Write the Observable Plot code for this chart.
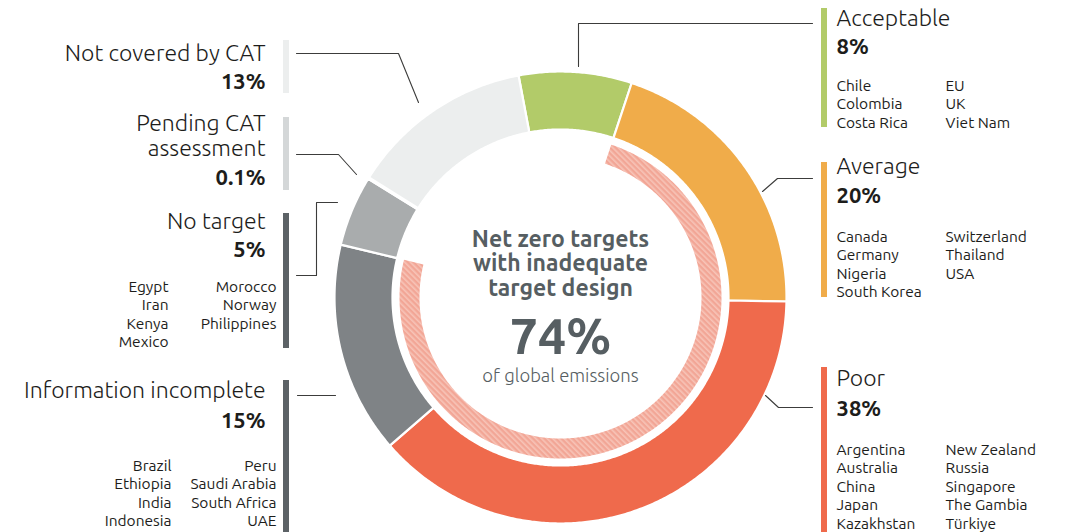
<!DOCTYPE html>
<html><head><meta charset="utf-8">
<script src="https://cdn.jsdelivr.net/npm/d3@7"></script>
<script src="https://cdn.jsdelivr.net/npm/@observablehq/plot@0.6"></script>
<style>
html,body{margin:0;padding:0;background:#fff;}
#chart svg{display:block;}
</style>
</head><body><div id="chart"></div>
<script>
// ---------------- DATA ----------------
const categories = ["Acceptable","Average","Poor","Information incomplete","No target","Pending CAT assessment","Not covered by CAT"];
const values = [8, 20, 38, 15, 5, 0.1, 13];
const pctLabels = ["8%","20%","38%","15%","5%","0.1%","13%"];
const acceptableCountries = ["Chile","Colombia","Costa Rica","EU","UK","Viet Nam"];
const averageCountries = ["Canada","Germany","Nigeria","South Korea","Switzerland","Thailand","USA"];
const poorCountries = ["Argentina","Australia","China","Japan","Kazakhstan","New Zealand","Russia","Singapore","The Gambia","Türkiye"];
const infoCountries = ["Brazil","Ethiopia","India","Indonesia","Peru","Saudi Arabia","South Africa","UAE"];
const noTargetCountries = ["Egypt","Iran","Kenya","Mexico","Morocco","Norway","Philippines"];
const inadequateCategories = ["Average","Poor","Information incomplete"];
const centerLines = ["Net zero targets","with inadequate","target design"];
const centerValue = "74%";
const centerNote = "of global emissions";

// ---------------- STYLE / LAYOUT ----------------
const W = 1074, H = 532;
const cx = 560, cy = 297, rOuter = 226, rInner = 168, hOuter = 161, hInner = 141;
const startDeg = -10.7;
const segColors = {"Acceptable":"#b2cb69","Average":"#f0ac4a","Poor":"#ef6a4c","Information incomplete":"#7f8386","No target":"#a9acad","Pending CAT assessment":"#d6d9d9","Not covered by CAT":"#eceeee"};
const FONT = "Ubuntu, 'Open Sans', 'Noto Sans', sans-serif";
const textColor = "#1d1d1b";
const centerColor = "#565e62";

const labelLayout = {
  "Acceptable":            {side:"right", bar:[8,127],   title:[25],      pct:53,  list:90,  barColor:"#b2cb69"},
  "Average":               {side:"right", bar:[162,297], title:[173],     pct:202, list:241, barColor:"#f0ac4a"},
  "Poor":                  {side:"right", bar:[367,532], title:[385],     pct:415, list:454, barColor:"#ef6a4c"},
  "Not covered by CAT":    {side:"left",  bar:[40,93],   title:[60],      pct:88,  barColor:"#eceeee"},
  "Pending CAT assessment":{side:"left",  bar:[117,190], title:[130,155], pct:184, barColor:"#d4d7d8", lines:["Pending CAT","assessment"]},
  "No target":             {side:"left",  bar:[213,348], title:[228],     pct:256, list:291, col1:168, barColor:"#5c6266"},
  "Information incomplete":{side:"left",  bar:[380,532], title:[397],     pct:427, list:470, col1:171, barColor:"#5c6266"}
};
const countryLists = {"Acceptable":acceptableCountries,"Average":averageCountries,"Poor":poorCountries,"No target":noTargetCountries,"Information incomplete":infoCountries};
const rightText = 836, rightCol2 = 945, rightBar = [821,827];
const leftText = 265, leftCol2 = 276, leftBar = [283,289];
const lineStep = 18.6;

const leaders = [
  {k:"Acceptable", pts:[[578,66],[578,23],[812,23]]},
  {k:"Average", pts:[[762,191],[777,178],[812,178]]},
  {k:"Poor", pts:[[765,395],[778,407],[812,407]]},
  {k:"Not covered by CAT", pts:[[296,53],[398,53],[418,102]]},
  {k:"Pending CAT assessment", pts:[[296,154],[338,154],[356,174]]},
  {k:"No target", pts:[[337,202],[316,202],[316,275],[296,275]]},
  {k:"Information incomplete", pts:[[297,395],[335,395]]}
];

// ---------------- GEOMETRY FROM DATA ----------------
const segs = categories.map((c,i)=>({key:c, value:values[i]}));
const rad = Math.PI/180;
const pie = d3.pie().sort(null).value(d=>d.value).startAngle(startDeg*rad).endAngle(startDeg*rad + 2*Math.PI);
const arcs = pie(segs);

function ring(key, a0, a1, r0, r1) {
  const n = Math.max(2, Math.ceil((a1-a0)/(0.5*rad)));
  const pts = [];
  for (let i=0;i<=n;i++){ const a=a0+(a1-a0)*i/n; pts.push({key, x:cx+r1*Math.sin(a), y:cy-r1*Math.cos(a)}); }
  for (let i=n;i>=0;i--){ const a=a0+(a1-a0)*i/n; pts.push({key, x:cx+r0*Math.sin(a), y:cy-r0*Math.cos(a)}); }
  pts.push({...pts[0]});
  return pts;
}
const segPts = arcs.flatMap(a => ring(a.data.key, a.startAngle, a.endAngle, rInner, rOuter).map(p=>({...p, color:segColors[a.data.key]})));
const inad = arcs.filter(a => inadequateCategories.includes(a.data.key));
const hatchPts = ring("hatch", d3.min(inad, a=>a.startAngle), d3.max(inad, a=>a.endAngle), hInner, hOuter);

// ---------------- TEXT ROWS ----------------
const titles = [], pcts = [], countriesTxt = [], bars = [];
categories.forEach((c,i) => {
  const L = labelLayout[c];
  const right = L.side === "right";
  const tx = right ? rightText : leftText;
  const anchor = right ? "start" : "end";
  const lines = L.lines || [c];
  lines.forEach((t,j)=>titles.push({text:t, x:tx, y:L.title[j], anchor}));
  pcts.push({text:pctLabels[i], x:tx, y:L.pct, anchor});
  const b = right ? rightBar : leftBar;
  bars.push({x1:b[0], x2:b[1], y1:L.bar[0], y2:L.bar[1], color:L.barColor});
  const list = countryLists[c];
  if (list) {
    const n1 = Math.ceil(list.length/2);
    list.forEach((name,j)=>{
      const col = j < n1 ? 0 : 1, row = j < n1 ? j : j-n1;
      const x = right ? (col===0 ? rightText : rightCol2) : (col===0 ? L.col1 : leftCol2);
      countriesTxt.push({text:name, x, y:L.list + row*lineStep, anchor});
    });
  }
});
const leaderPts = leaders.flatMap(l => l.pts.map(p=>({k:l.k, x:p[0], y:p[1]})));
const centerTxt = centerLines.map((t,i)=>({text:t, x:cx, y:246 + i*24.5}));

const hatchDefs = () => {
  const defs = d3.create("svg:defs");
  const p = defs.append("pattern").attr("id","hatch").attr("patternUnits","userSpaceOnUse")
    .attr("width",4).attr("height",4).attr("patternTransform","rotate(-45)");
  p.append("rect").attr("width",4).attr("height",4).attr("fill","#f2a696");
  p.append("rect").attr("width",1.6).attr("height",4).attr("fill","#f7c4b8");
  return defs.node();
};

const sideText = (rows, opts) => ["start","end"].map(a =>
  Plot.text(rows.filter(d=>d.anchor===a), {x:"x", y:"y", text:"text", textAnchor:a, lineAnchor:"bottom", fill:textColor, ...opts}));

const chart = Plot.plot({
  width: W, height: H,
  margin: 0,
  x: {domain:[0,W], range:[0,W], axis:null},
  y: {domain:[0,H], range:[0,H], axis:null},
  color: {type:"identity"},
  style: {fontFamily: FONT, background:"#fff"},
  marks: [
    hatchDefs,
    Plot.line(segPts, {x:"x", y:"y", z:"key", fill:"color", stroke:"#fff", strokeWidth:2.2, curve:"linear"}),
    Plot.line(hatchPts, {x:"x", y:"y", fill:"url(#hatch)", stroke:"none"}),
    Plot.rect(bars, {x1:"x1", x2:"x2", y1:"y1", y2:"y2", fill:"color"}),
    Plot.line(leaderPts, {x:"x", y:"y", z:"k", stroke:"#3c3c3b", strokeWidth:1.1}),
    ...sideText(titles, {fontSize:23, fontWeight:300}),
    ...sideText(pcts, {fontSize:22, fontWeight:"bold"}),
    ...sideText(countriesTxt, {fontSize:15.5, fontWeight:400}),
    Plot.text(centerTxt, {x:"x", y:"y", text:"text", textAnchor:"middle", fontSize:23, fontWeight:"bold", fill:centerColor, lineAnchor:"bottom"}),
    Plot.text([centerValue], {x:()=>cx, y:()=>353, text:d=>d, textAnchor:"middle", fontSize:50, fontWeight:"bold", fill:centerColor, lineAnchor:"bottom"}),
    Plot.text([centerNote], {x:()=>cx, y:()=>381, text:d=>d, textAnchor:"middle", fontSize:18.5, fontWeight:300, fill:centerColor, lineAnchor:"bottom"})
  ]
});
document.getElementById("chart").append(chart);
</script>
</body></html>
